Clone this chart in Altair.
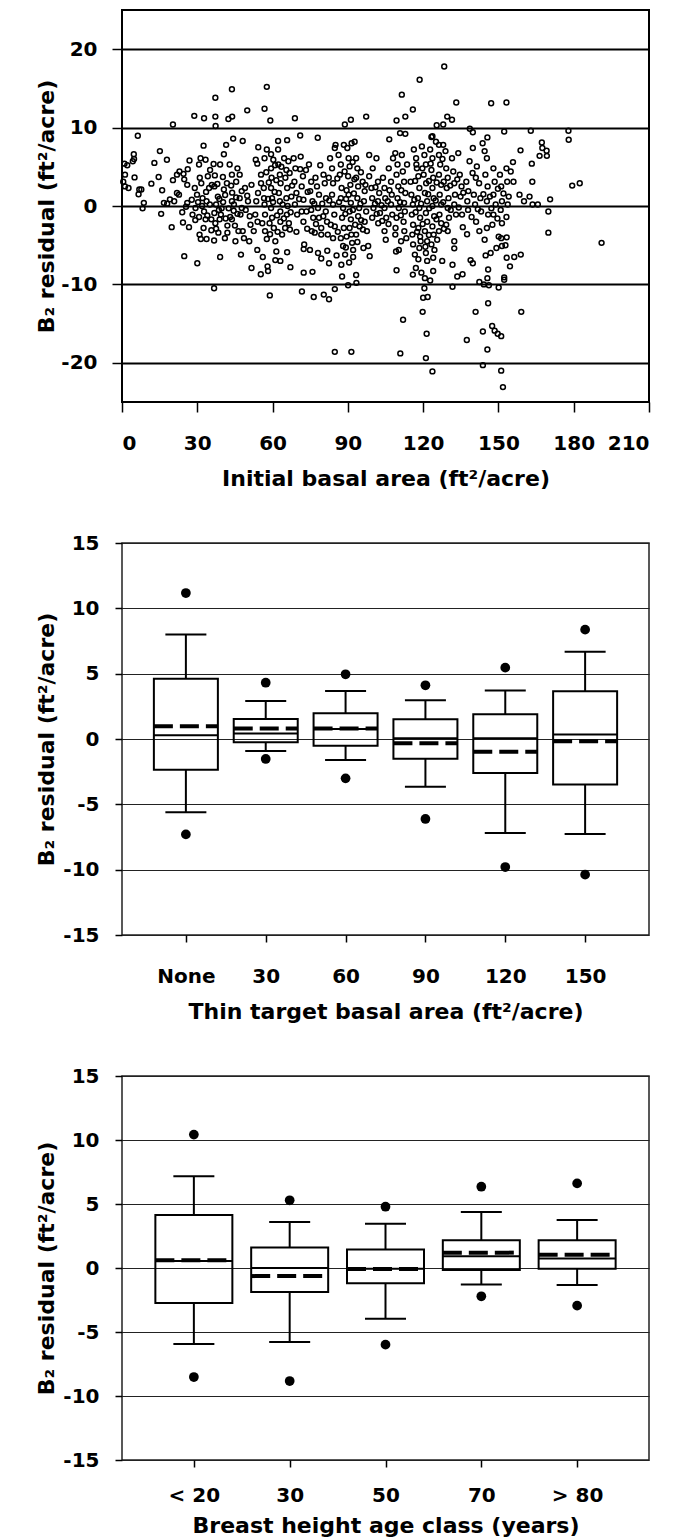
import altair as alt
import pandas as pd

# ---------------- Panel 1: scatter ----------------
basal_x = [128.4,118.6,57.7,43.8,37.2,111.5,133.2,147.1,153.2,115.9,56.8,49.9,28.8,32.7,37.2,43.9,42.4,68.9,91.2,97.3,
109.4,112.9,129.6,131.5,125.4,128.0,59.1,37.3,20.3,88.8,138.6,139.8,152.3,162.9,177.9,178.0,6.3,71.0,78.0,106.5,
110.8,112.9,123.3,145.6,44.3,48.1,62.2,65.8,167.3,167.5,169.2,166.4,169.3,163.3,163.5,158.8,155.8,179.4,182.4,170.6,
169.9,169.9,191.1,159.1,158.9,156.3,154.6,152.3,152.3,150.1,151.1,149.7,148.5,147.5,143.8,145.6,137.4,140.9,145.9,143.8,
151.1,151.8,123.7,121.1,121.4,119.8,112.0,110.9,91.4,84.8,36.7,58.9,76.4,80.4,82.5,71.7,84.8,90.1,93.4,87.7,
93.3,120.0,121.8,120.5,120.7,119.3,122.8,124.0,109.4,131.7,133.6,135.7,131.7,127.6,132.4,138.9,139.8,142.4,144.2,146.2,
145.6,145.9,146.9,149.2,150.1,151.1,153.3,151.4,152.8,147.6,153.2,153.3,24.8,30.0,39.1,47.4,51.6,55.3,58.2,58.0,
56.1,53.9,61.1,63.1,61.5,65.8,67.1,72.4,75.9,72.6,72.4,74.9,78.1,79.4,82.5,85.5,81.8,96.2,98.1,98.7,
90.5,92.1,87.4,19.8,8.2,15.6,11.7,12.9,15.1,17.9,4.7,4.8,4.3,1.0,2.1,1.2,0.5,1.2,2.6,5.0,
6.9,7.7,6.6,8.7,16.0,14.6,16.7,18.0,19.1,20.3,21.9,22.9,20.8,21.9,22.7,24.0,24.3,26.7,26.9,26.2,
24.5,24.8,26.0,26.0,27.8,28.1,30.7,30.9,31.4,33.7,29.2,31.3,30.7,33.3,32.5,34.2,35.1,36.5,39.1,37.0,
35.8,34.7,36.8,38.2,37.5,36.8,35.6,37.2,35.6,36.7,38.4,41.0,42.0,43.1,42.5,40.3,41.1,40.6,41.8,42.9,
40.6,41.5,45.5,44.6,46.0,45.0,46.4,45.2,48.6,49.0,49.9,50.2,49.3,50.9,51.2,52.5,54.0,53.1,53.5,54.2,
53.3,53.9,54.3,55.4,55.4,56.5,56.6,56.8,57.0,55.9,57.0,57.7,56.8,57.7,59.4,60.3,59.4,59.6,59.4,59.8,
59.4,59.8,60.5,61.1,62.2,62.3,62.9,63.2,62.5,62.9,63.1,63.1,63.8,64.6,65.5,65.1,65.8,65.5,66.0,65.7,
66.5,66.9,68.4,69.1,68.7,69.5,68.9,69.8,69.5,71.2,72.1,71.6,72.3,71.6,72.3,73.3,74.5,75.4,75.0,75.9,
75.4,76.2,75.6,77.1,77.7,78.5,78.1,78.5,79.4,79.4,76.8,80.3,80.8,81.3,81.2,81.7,82.0,82.9,83.7,84.1,
83.7,84.1,84.6,84.8,84.1,84.8,85.1,86.3,87.2,86.8,87.5,87.2,88.1,87.7,88.4,87.2,88.1,88.9,88.4,89.8,
90.3,90.7,90.1,91.0,90.3,91.2,90.7,91.2,90.7,91.4,91.7,92.1,92.7,91.5,93.3,93.8,93.3,94.1,93.8,94.5,
94.1,94.7,93.3,95.9,96.7,96.4,97.3,96.7,97.6,98.5,99.4,98.5,99.9,99.7,100.2,99.7,101.4,102.0,102.5,102.0,
102.8,102.1,104.6,104.9,104.6,105.3,104.6,105.1,106.3,107.2,107.5,107.2,107.7,108.0,108.9,109.8,109.4,110.1,109.8,110.3,
109.4,109.0,108.9,109.2,110.3,111.2,111.5,111.9,112.4,112.9,112.4,112.7,112.2,112.5,113.3,113.6,115.0,115.3,115.9,115.5,
116.0,115.7,116.0,116.7,116.3,117.2,117.5,118.1,118.5,117.9,118.5,118.8,118.1,118.8,118.5,118.1,117.1,115.9,119.5,120.5,
121.1,120.2,121.2,120.7,121.6,121.1,121.6,120.7,121.6,121.1,121.6,122.8,123.7,123.3,124.0,123.7,124.2,123.7,124.4,123.7,
124.2,123.3,124.5,124.0,123.7,125.1,126.3,126.3,126.8,126.3,127.2,126.6,127.2,126.5,127.2,126.3,128.0,128.9,129.2,129.8,
129.4,130.1,129.8,130.3,129.2,129.8,131.5,132.0,132.4,132.7,132.4,133.1,132.4,134.0,134.6,135.3,134.9,135.5,135.8,137.2,
137.6,137.9,138.5,139.7,139.8,140.2,140.7,141.1,141.4,142.3,142.8,143.1,142.4,143.7,144.5,145.4,144.8,145.7,145.4,145.9,
145.4,144.5,148.0,148.5,148.0,148.9,148.0,150.6,151.1,151.4,150.9,151.4,153.2,153.5,154.1,153.7,154.9,156.0,158.4,160.2,
162.4,163.6,165.7,25.5,29.3,31.9,32.7,33.7,32.1,29.9,29.0,31.6,33.3,32.5,39.4,38.9,43.8,47.2,47.7,46.9,
47.7,46.9,46.0,43.8,51.6,42.0,48.1,50.7,43.8,38.6,
58.5,60.8,61.5,64.0,64.5,61.8,58.8,63.5,66.8,67.5,67.2,60.2,58.2,57.5,65.0,62.0,59.0,67.8,66.3,61.0,
86.5,89.3,89.0,92.4,92.0,95.0,95.3,89.5,92.6,95.2,86.0,89.5,92.9,96.0,89.2,93.8,97.0,88.7,91.9,85.8,
116.5,117.0,119.2,119.8,122.0,122.4,125.0,125.3,128.0,128.3,116.8,119.7,122.3,125.4,128.2,130.8,119.0,122.3,125.6,117.3,
123.0,127.7,120.9,117.6,131.0,33.5,35.0,34.0,38.8,39.7,38.0,41.3,43.9,44.5,31.0,37.5,40.2,43.5,45.5,30.3,
100.8,101.5,103.4,103.7,105.9,106.2,110.8,111.1,104.0,106.6,101.0,111.3,134.2,136.0,138.0,139.3,141.8,144.0,146.6,147.2,
149.6,152.0,137.5,144.9,149.8,133.6,141.0,70.6,73.5,74.0,76.6,79.8,80.2,82.6,83.2,73.8,77.3,71.0,79.0,82.4]

resid_y = [17.8,16.1,15.2,14.9,13.8,14.2,13.2,13.1,13.2,12.3,12.4,12.2,11.5,11.2,11.4,11.4,11.1,11.2,11.0,11.4,
10.9,11.4,11.4,11.0,10.3,10.4,10.9,10.2,10.4,10.4,9.85,9.4,9.5,9.6,9.6,8.45,8.96,9.0,8.7,8.5,
9.3,9.2,8.8,8.75,8.6,8.3,8.3,8.4,8.1,7.4,7.05,6.4,6.4,5.4,3.1,7.1,5.6,2.6,2.9,0.85,
-0.7,-3.4,-4.7,-13.5,-6.2,-6.5,-7.7,-9.4,-9.1,-10.4,-16.6,-16.3,-15.9,-15.3,-16.0,-18.3,-17.1,-13.5,-12.4,-20.3,
-21.0,-23.1,-21.1,-19.4,-16.3,-13.5,-14.5,-18.8,-18.6,-18.6,-10.5,-11.4,-11.6,-11.3,-11.9,-10.9,-10.6,-10.1,-9.8,-9.0,
-8.8,-11.7,-11.6,-10.5,-9.2,-8.5,-9.5,-8.3,-8.2,-7.5,-9.0,-8.7,-10.3,-7.0,-5.4,-6.9,-7.3,-9.7,-10.0,-10.1,
-9.2,-8.1,-6.0,-5.35,-3.9,-4.1,-4.0,-5.1,-5.0,-2.4,-1.4,-6.6,-6.4,-7.3,-6.5,-6.2,-7.9,-8.7,-8.3,-7.7,
-6.5,-5.6,-6.9,-7.0,-5.8,-5.9,-7.8,-8.5,-8.4,-4.9,-5.5,-5.6,-6.0,-6.7,-7.3,-6.3,-5.7,-5.35,-5.1,-6.4,
-7.2,-6.5,-7.5,-2.7,-0.3,-1.0,2.85,5.5,7.0,5.9,6.6,6.0,5.7,5.4,5.2,4.0,3.1,2.5,2.3,3.65,
2.1,2.1,1.5,0.4,2.0,3.7,0.4,0.3,0.85,3.3,4.0,4.4,0.6,1.65,1.45,-0.8,-2.1,-2.7,5.8,4.7,
4.1,3.4,2.7,0.4,0.8,-1.1,-1.4,-3.65,-4.2,-4.2,-1.8,6.1,5.3,5.9,7.7,3.8,4.6,5.35,5.3,3.9,
2.7,2.3,2.5,1.2,0.2,-0.9,-1.7,-2.2,-3.1,-4.4,-3.4,-4.1,-2.5,-1.4,-0.3,0.5,1.4,2.1,2.9,5.3,
6.6,7.8,3.1,0.2,-1.0,-2.5,-3.2,-4.5,-4.1,2.3,1.3,0.6,-0.5,-1.3,-2.4,-3.2,-2.0,-1.1,0.6,1.65,
5.9,5.4,7.5,4.0,2.9,2.3,1.0,0.2,-1.1,-2.2,-3.2,-4.2,6.1,7.2,6.6,5.9,4.8,3.6,2.3,1.0,
-0.25,-1.5,-2.8,-4.5,7.2,5.3,4.0,2.9,1.65,0.6,-0.7,-2.0,-3.65,6.1,4.6,3.6,2.3,1.0,0.0,-1.1,
-2.2,-3.0,6.1,4.8,3.1,1.65,0.2,-1.1,-3.3,6.3,3.8,2.5,0.8,-0.7,-2.0,4.6,5.3,3.1,1.9,0.6,
-0.5,-1.5,-3.2,3.6,2.5,1.45,-0.25,-1.5,-2.8,-3.65,-3.4,4.0,2.9,1.0,-0.7,-2.0,-3.65,6.1,4.8,2.9,
1.45,0.2,-1.1,-2.6,-4.1,7.4,7.8,6.5,5.3,4.0,2.3,1.0,-0.25,-1.5,-2.8,-4.1,-5.1,-6.2,7.8,7.4,
6.1,5.05,3.8,2.7,1.45,0.4,-0.7,-1.7,-2.8,-3.65,-4.7,-5.6,8.2,8.0,6.1,4.8,3.6,2.5,1.0,-0.25,
-1.3,-2.6,-3.65,3.1,1.9,0.6,-0.7,-2.0,-3.2,3.8,2.3,6.5,4.8,1.0,-0.25,-1.5,6.1,3.1,1.65,0.6,
-0.9,-2.2,2.3,1.0,-0.25,-1.5,-3.2,-4.3,4.8,3.1,1.45,0.2,-1.1,6.1,6.75,5.3,4.0,2.5,1.0,-0.25,
-1.5,-2.8,-3.65,-5.8,-5.6,-4.5,6.5,4.4,3.1,1.65,0.4,-0.7,-2.0,-3.2,-4.1,5.3,3.1,1.45,0.2,-1.1,
-2.4,-3.65,-4.9,-6.2,7.2,6.1,4.8,3.8,2.3,1.0,-0.25,-1.5,-2.8,-3.9,-5.35,-6.8,-7.9,-8.75,7.6,6.5,
5.3,4.0,2.9,1.65,0.6,-0.9,-2.0,-3.2,-4.5,-6.0,-7.0,7.2,6.1,4.6,3.6,2.3,1.0,0.0,-1.3,-2.6,
-3.65,-4.9,-5.6,-6.6,8.9,8.2,7.8,6.5,5.3,4.0,2.7,1.45,0.2,-1.1,-2.2,-3.2,7.8,7.0,4.8,3.6,
2.3,1.0,-0.25,-1.5,-2.4,-3.2,6.1,4.4,2.9,1.45,0.2,-1.1,-4.5,6.75,4.0,2.5,1.2,-1.1,-2.7,3.1,
0.6,-0.5,5.7,4.2,7.4,1.45,0.2,-2.0,5.05,2.9,1.0,-0.7,-3.2,8.0,7.0,6.1,4.0,2.5,0.6,-1.1,
-2.8,-4.3,4.8,3.1,1.45,0.2,-1.1,4.0,2.5,0.6,-0.5,-2.2,4.8,3.1,1.2,0.2,4.4,3.1,1.45,0.6,
1.2,0.2,0.2,-0.1,-0.25,0.0,-0.7,0.6,1.0,1.45,2.3,2.9,-1.7,-2.8,-1.1,-1.7,-1.7,-1.1,-0.25,1.0,
1.9,4.0,4.8,4.0,2.7,-3.4,-3.2,-4.5,0.6,-0.5,
3.0,1.8,3.3,0.2,-1.6,-1.2,-2.2,5.0,4.2,1.2,-0.8,0.5,0.9,4.3,-2.8,-3.3,-3.6,2.6,5.7,5.2,
0.5,0.9,-1.0,1.6,-0.5,0.3,-1.8,2.0,3.4,4.3,-3.3,-3.9,-2.4,-3.0,-5.3,-4.6,2.7,4.4,5.6,3.5,
0.8,-0.8,0.3,-2.3,1.5,-0.3,0.7,-1.7,0.5,-2.9,3.2,4.8,3.2,3.0,3.1,2.6,-4.5,-3.7,-4.3,5.3,
5.4,6.0,-5.2,-3.3,-0.5,1.8,0.2,-1.2,0.9,-0.3,2.8,-1.6,1.7,-0.6,3.6,-2.9,3.7,2.6,1.1,0.5,
0.3,-1.0,0.1,-1.9,0.6,-2.3,0.5,-1.2,3.6,2.0,2.4,2.0,-0.2,1.7,1.9,-1.4,-0.4,1.5,1.2,-0.3,
-1.6,1.6,-3.6,-6.3,2.2,3.4,3.6,0.9,-0.7,1.8,0.3,0.3,-1.3,0.7,-2.4,-2.9,-2.3,4.7,5.2,3.6]

# ---------------- Panel 2: thinning target basal area ----------------
thin_cats = ["None", "30", "60", "90", "120", "150"]
thin_lo = [-5.61, -0.92, -1.60, -3.65, -7.19, -7.27]
thin_q1 = [-2.35, -0.25, -0.51, -1.52, -2.60, -3.49]
thin_med = [0.29, 0.43, 0.77, 0.06, 0.05, 0.35]
thin_mean = [0.97, 0.80, 0.80, -0.32, -0.97, -0.17]
thin_q3 = [4.62, 1.54, 1.98, 1.52, 1.90, 3.65]
thin_hi = [8.00, 2.90, 3.67, 2.96, 3.72, 6.68]
thin_out_lo = [-7.30, -1.53, -3.01, -6.12, -9.80, -10.38]
thin_out_hi = [11.17, 4.31, 4.95, 4.11, 5.46, 8.37]

# ---------------- Panel 3: breast height age class ----------------
age_cats = ["< 20", "30", "50", "70", "> 80"]
age_lo = [-5.94, -5.78, -3.96, -1.28, -1.33]
age_q1 = [-2.73, -1.88, -1.20, -0.16, -0.05]
age_med = [0.55, 0.00, -0.05, 0.92, 0.75]
age_mean = [0.60, -0.63, -0.07, 1.20, 1.03]
age_q3 = [4.14, 1.61, 1.44, 2.17, 2.17]
age_hi = [7.16, 3.59, 3.46, 4.38, 3.75]
age_out_lo = [-8.52, -8.83, -5.99, -2.21, -2.94]
age_out_hi = [10.42, 5.29, 4.79, 6.35, 6.61]

FONT = "DejaVu Sans"
YTITLE = "B\u2082 residual (ft\u00b2/acre)"
W = 527


def y_axis(values, grid_color, grid_width, tick_size, label_pad):
    return alt.Axis(values=values, title=YTITLE, grid=True, gridColor=grid_color,
                    gridWidth=grid_width, gridOpacity=1, tickSize=tick_size, tickColor="black",
                    tickWidth=1.5, domain=False, labelFont=FONT, labelFontWeight="bold",
                    labelFontSize=20, labelColor="black", labelPadding=label_pad,
                    labelExpr="'' + datum.value",
                    titleFont=FONT, titleFontWeight="bold", titleFontSize=22,
                    titleColor="black", titleX=-64, titleAnchor="middle")


def x_axis(title, tick, label_pad, title_pad, values=None):
    kw = dict(title=title, grid=False, tickSize=tick, tickColor="black", tickWidth=1.5,
              domain=False, labelAngle=0, labelFont=FONT, labelFontWeight="bold",
              labelFontSize=20, labelColor="black", labelPadding=label_pad,
              titleFont=FONT, titleFontWeight="bold", titleFontSize=22,
              titleColor="black", titlePadding=title_pad)
    if values is not None:
        kw["values"] = values
    return alt.Axis(**kw)


# Panel 1
df_sc = pd.DataFrame({"basal": basal_x, "resid": resid_y})
p1 = alt.Chart(df_sc).mark_point(shape="circle", filled=False, size=24, color="black",
                                  strokeWidth=1.5, opacity=1).encode(
    x=alt.X("basal:Q", scale=alt.Scale(domain=[0, 210], nice=False, zero=False),
            axis=x_axis("Initial basal area (ft\u00b2/acre)", 10, 21, 15,
                        list(range(0, 211, 30)))),
    y=alt.Y("resid:Q", scale=alt.Scale(domain=[-25, 25], nice=False),
            axis=y_axis([-20, -10, 0, 10, 20], "black", 2, 10, 15)),
).properties(width=W, height=392, view=alt.ViewBackground(stroke="black", strokeWidth=2))


def box_panel(cats, lo, q1, med, mean, q3, hi, olo, ohi, pad, bw, title, h,
              label_pad, title_pad):
    df = pd.DataFrame({"cat": cats, "lo": lo, "q1": q1, "med": med, "mean": mean,
                       "q3": q3, "hi": hi})
    out = pd.DataFrame({"cat": cats + cats, "v": olo + ohi})
    xenc = alt.X("cat:N", sort=cats, scale=alt.Scale(type="point", padding=pad),
                 axis=x_axis(title, 7, label_pad, title_pad))
    ysc = alt.Scale(domain=[-15, 15], nice=False)
    yax = y_axis(list(range(-15, 16, 5)), "#222222", 1, 7, 16)

    def Y(f):
        return alt.Y(f, scale=ysc, axis=yax)

    base = alt.Chart(df)
    half = bw / 2.0
    wh = base.mark_rule(color="black", strokeWidth=2).encode(x=xenc, y=Y("q3:Q"), y2="hi:Q")
    wl = base.mark_rule(color="black", strokeWidth=2).encode(x=xenc, y=Y("lo:Q"), y2="q1:Q")
    cap_h = base.mark_rule(color="black", strokeWidth=2, xOffset=-20.5, x2Offset=20.5).encode(
        x=xenc, x2="cat", y=Y("hi:Q"))
    cap_l = base.mark_rule(color="black", strokeWidth=2, xOffset=-20.5, x2Offset=20.5).encode(
        x=xenc, x2="cat", y=Y("lo:Q"))
    box = base.mark_bar(size=bw, fill="white", fillOpacity=0, stroke="black",
                        strokeWidth=2).encode(x=xenc, y=Y("q1:Q"), y2="q3:Q")
    md = base.mark_rule(color="black", strokeWidth=2, xOffset=-half, x2Offset=half).encode(
        x=xenc, x2="cat", y=Y("med:Q"))
    mn = base.mark_rule(color="black", strokeWidth=4, strokeDash=[19, 7], strokeCap="butt",
                        xOffset=-half, x2Offset=half).encode(x=xenc, x2="cat", y=Y("mean:Q"))
    dots = alt.Chart(out).mark_circle(size=95, color="black", opacity=1).encode(
        x=xenc, y=Y("v:Q"))
    return alt.layer(wh, wl, cap_h, cap_l, box, md, mn, dots).properties(
        width=W, height=h, view=alt.ViewBackground(stroke="#222222", strokeWidth=1.5))


p2 = box_panel(thin_cats, thin_lo, thin_q1, thin_med, thin_mean, thin_q3, thin_hi,
               thin_out_lo, thin_out_hi, 0.8, 64,
               "Thin target basal area (ft\u00b2/acre)", 392, 24, 15)
p3 = box_panel(age_cats, age_lo, age_q1, age_med, age_mean, age_q3, age_hi,
               age_out_lo, age_out_hi, 0.75, 77,
               "Breast height age class (years)", 384, 18, 10)

chart = alt.vconcat(p1, p2, p3, spacing=141, bounds="flush").properties(
    padding={"left": 34, "top": 9, "right": 0, "bottom": 0},
    background="white",
)

chart.save("out.html", embed_options={"renderer": "svg", "actions": False})
